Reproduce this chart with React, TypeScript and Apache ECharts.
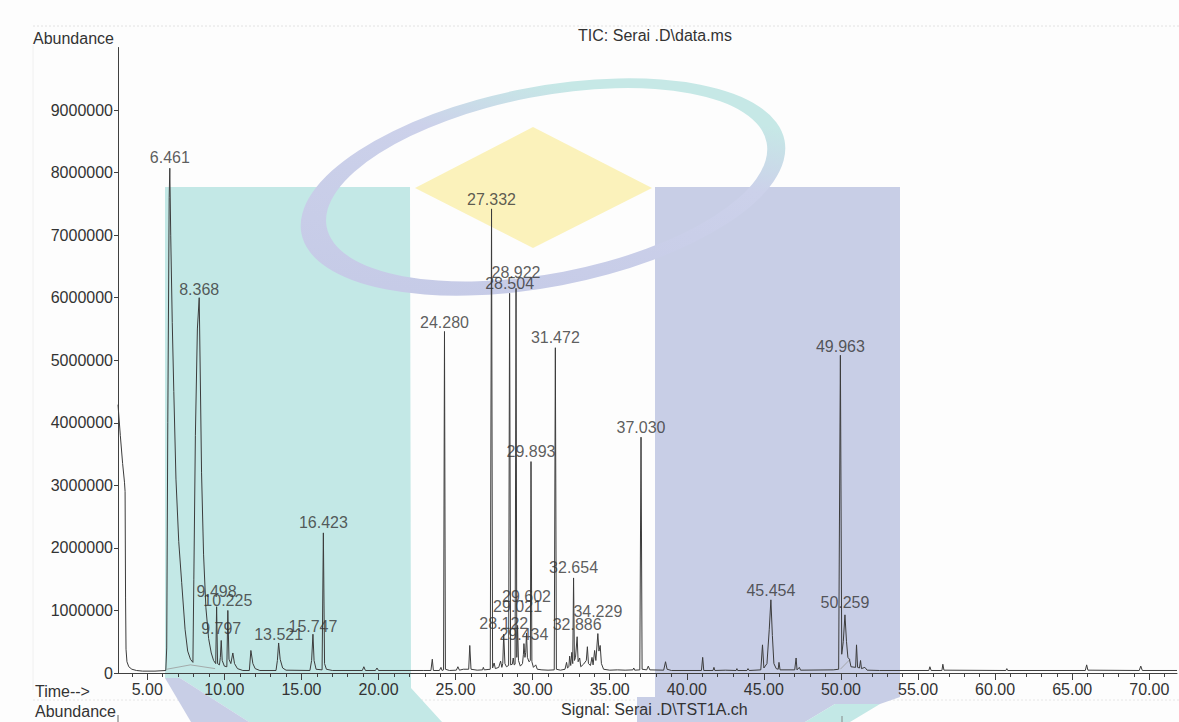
import React, { useEffect, useRef } from "react";
import * as echarts from "echarts";

// ---- axis ranges and ticks ----
const TIME_MIN = 3.1;
const TIME_MAX = 71.8;
const ABUNDANCE_MAX = 10000000;

const yTickValues = [0, 1000000, 2000000, 3000000, 4000000, 5000000, 6000000, 7000000, 8000000, 9000000];
const xMajorTicks = [5, 10, 15, 20, 25, 30, 35, 40, 45, 50, 55, 60, 65, 70];
const xMinorTicks = [
  4, 5, 6, 7, 8, 9, 10, 11, 12, 13, 14, 15, 16, 17, 18, 19, 20, 21, 22, 23, 24, 25, 26, 27, 28, 29, 30, 31, 32, 33, 34, 35,
  36, 37, 38, 39, 40, 41, 42, 43, 44, 45, 46, 47, 48, 49, 50, 51, 52, 53, 54, 55, 56, 57, 58, 59, 60, 61, 62, 63, 64, 65,
  66, 67, 68, 69, 70, 71,
];

// ---- TIC trace: [retention time (min), abundance] ----
const solventFront: [number, number][] = [
  [3.1, 4290000], [3.25, 3800000], [3.4, 3350000], [3.52, 3050000], [3.56, 2900000], [3.59, 1200000],
  [3.62, 380000], [3.68, 180000], [3.8, 100000], [4.0, 60000], [4.3, 40000], [4.7, 30000], [5.5, 30000], [6.2, 40000],
];

const earlyPeaks: [number, number][] = [
  [6.26, 400000], [6.33, 4000000], [6.42, 7600000], [6.461, 8070000], [6.52, 7000000], [6.62, 5600000],
  [6.72, 4500000], [6.86, 3100000], [7.04, 2100000], [7.23, 1450000], [7.45, 700000], [7.62, 350000],
  [7.8, 220000], [7.96, 170000],
  [8.02, 1500000], [8.12, 3800000], [8.25, 5500000], [8.368, 6000000], [8.44, 4700000], [8.52, 3200000],
  [8.65, 1900000], [8.8, 1050000], [8.98, 550000], [9.15, 320000], [9.3, 200000], [9.44, 150000],
  [9.498, 1060000], [9.56, 150000], [9.68, 130000], [9.74, 250000], [9.797, 520000], [9.86, 200000],
  [10.0, 110000], [10.16, 100000], [10.225, 1000000], [10.3, 220000], [10.42, 150000], [10.55, 320000],
  [10.66, 150000], [10.85, 70000], [11.2, 40000], [11.62, 40000], [11.72, 360000], [11.85, 150000],
  [12.0, 70000], [12.3, 40000], [13.35, 40000], [13.44, 200000], [13.521, 480000], [13.62, 220000],
  [13.78, 80000], [14.0, 45000], [15.55, 40000], [15.66, 200000], [15.747, 620000], [15.82, 200000],
  [15.95, 60000], [16.34, 50000], [16.423, 2240000], [16.5, 150000], [16.62, 60000], [17.0, 40000],
  [18.95, 40000], [19.05, 100000], [19.15, 40000], [19.8, 40000], [19.9, 80000], [20.0, 40000], [22.9, 40000],
];

const midPeaks: [number, number][] = [
  [23.4, 40000], [23.49, 220000], [23.56, 40000], [23.95, 40000], [24.05, 90000], [24.12, 40000],
  [24.22, 50000], [24.28, 5460000], [24.34, 60000], [24.6, 40000], [25.05, 45000], [25.15, 100000],
  [25.25, 45000], [25.5, 60000], [25.85, 60000], [25.92, 440000], [26.0, 60000], [26.4, 45000],
  [26.75, 50000], [26.8, 90000], [26.86, 50000], [27.25, 60000], [27.332, 7420000], [27.4, 80000],
  [27.5, 160000], [27.58, 70000], [27.8, 90000], [27.92, 190000], [28.0, 90000], [28.06, 150000],
  [28.122, 620000], [28.2, 150000], [28.3, 100000], [28.44, 120000], [28.504, 6070000], [28.57, 130000],
  [28.68, 140000], [28.74, 240000], [28.8, 130000], [28.86, 140000], [28.922, 6150000], [28.97, 250000],
  [29.021, 760000], [29.08, 200000], [29.2, 110000], [29.34, 150000], [29.4, 300000], [29.434, 470000],
  [29.5, 250000], [29.55, 330000], [29.602, 640000], [29.66, 250000], [29.76, 180000], [29.85, 200000],
  [29.893, 3380000], [29.95, 180000], [30.05, 90000], [30.2, 130000], [30.3, 60000], [30.6, 50000],
  [31.0, 45000], [31.4, 50000], [31.472, 5200000], [31.54, 60000], [31.8, 45000], [32.1, 60000],
  [32.2, 170000], [32.26, 80000], [32.35, 100000], [32.4, 270000], [32.47, 120000], [32.54, 330000],
  [32.6, 150000], [32.654, 1520000], [32.71, 200000], [32.78, 250000], [32.886, 580000], [32.95, 180000],
  [33.05, 240000], [33.12, 100000], [33.3, 140000], [33.48, 200000], [33.55, 420000], [33.62, 150000],
  [33.75, 120000], [33.85, 250000], [33.92, 130000], [34.02, 360000], [34.1, 200000], [34.229, 630000],
  [34.3, 350000], [34.38, 440000], [34.46, 150000], [34.6, 60000], [35.0, 45000], [35.5, 50000],
  [36.0, 45000], [36.5, 50000], [36.56, 80000], [36.62, 45000], [36.95, 50000], [37.03, 3770000],
  [37.1, 60000], [37.4, 50000], [37.5, 110000], [37.6, 50000],
];

const latePeaks: [number, number][] = [
  [38.5, 45000], [38.62, 180000], [38.72, 60000], [39.0, 40000], [40.95, 40000], [41.03, 250000],
  [41.1, 40000], [41.7, 40000], [41.76, 90000], [41.82, 40000], [42.5, 45000], [43.2, 40000],
  [43.25, 70000], [43.3, 40000], [43.9, 40000], [43.97, 70000], [44.05, 40000], [44.8, 50000],
  [44.91, 450000], [45.0, 80000], [45.2, 150000], [45.35, 700000], [45.454, 1170000], [45.55, 600000],
  [45.65, 150000], [45.8, 70000], [45.93, 60000], [45.98, 170000], [46.05, 50000], [47.0, 50000],
  [47.09, 240000], [47.15, 50000], [47.3, 90000], [47.38, 45000], [49.5, 50000], [49.85, 60000],
  [49.963, 5080000], [50.05, 300000], [50.15, 500000], [50.259, 930000], [50.36, 500000], [50.45, 250000],
  [50.55, 220000], [50.65, 100000], [50.95, 90000], [51.01, 450000], [51.08, 90000], [51.2, 80000],
  [51.27, 200000], [51.33, 70000], [51.55, 90000], [51.7, 45000], [52.5, 40000], [55.7, 40000],
  [55.77, 100000], [55.85, 40000], [56.55, 40000], [56.61, 140000], [56.68, 45000], [60.7, 40000],
  [60.76, 70000], [60.82, 40000], [65.85, 40000], [65.94, 130000], [66.02, 45000], [69.35, 40000],
  [69.45, 110000], [69.55, 40000], [71.8, 40000],
];

// integration baselines drawn under the early and the 50 min clusters
const integrationBaselines: [number, number][][] = [
  [[6.26, 60000], [7.8, 130000], [9.4, 70000]],
  [[49.96, 60000], [50.6, 220000]],
];

// ---- labelled peaks ----
const peakTimes = [
  6.461, 8.368, 9.498, 9.797, 10.225, 13.521, 15.747, 16.423, 24.28, 27.332, 28.122, 28.504, 28.922,
  29.021, 29.434, 29.602, 29.893, 31.472, 32.654, 32.886, 34.229, 37.03, 45.454, 49.963, 50.259,
];
const peakHeights = [
  8070000, 6000000, 1060000, 520000, 1000000, 480000, 620000, 2240000, 5460000, 7420000, 620000, 6070000,
  6150000, 760000, 470000, 640000, 3380000, 5200000, 1520000, 580000, 630000, 3770000, 1170000, 5080000, 930000,
];
// vertical lift (px) of each label centre above its apex; stacked labels sit higher
const labelLift = [11, 8, 15, 12, 10, 8, 8, 10, 9, 9, 11, 10, 16, 19, 9, 36, 10, 10, 10, 12, 22, 10, 9, 9, 12];

const FONT = '"Liberation Sans", Arial, sans-serif';
const INK = "#333333";
const TEAL = "#c3e8e6";
const LAVENDER = "#c8cee6";

// ring of the background emblem: outer ellipse with an inner, offset ellipse cut out
const ringPath =
  "M -246 0 A 246 100 0 1 1 246 0 A 246 100 0 1 1 -246 0 Z " +
  "M -220 -1.5 A 224 88.5 0 1 0 228 -1.5 A 224 88.5 0 1 0 -220 -1.5 Z";

let ringRegistered = false;
function registerRing() {
  if (ringRegistered) return;
  echarts.graphic.registerShape("emblemRing", echarts.graphic.extendPath(ringPath, {}) as any);
  ringRegistered = true;
}

export default function App() {
  const ref = useRef<HTMLDivElement>(null);

  useEffect(() => {
    if (!ref.current) return;
    registerRing();
    const chart = echarts.init(ref.current, undefined, { renderer: "svg" });

    const trace = [...solventFront, ...earlyPeaks, ...midPeaks, ...latePeaks];

    const textEl = (text: string, x: number, y: number, align: string = "left") => ({
      type: "text",
      x,
      y,
      z: 10,
      style: { text, fill: INK, font: `16px ${FONT}`, align, verticalAlign: "middle" },
    });

    const option: any = {
      animation: false,
      backgroundColor: "#fdfdfd",
      grid: { left: 118, right: 2, top: 47.5, bottom: 49 },
      xAxis: [
        {
          type: "value",
          min: TIME_MIN,
          max: TIME_MAX,
          position: "bottom",
          axisLine: { show: true, onZero: false, lineStyle: { color: "#404040", width: 1 } },
          axisTick: { show: true, customValues: xMajorTicks, length: 7, lineStyle: { color: "#404040" } },
          axisLabel: {
            customValues: xMajorTicks,
            formatter: (v: number) => v.toFixed(2),
            margin: 8,
            color: INK,
            fontSize: 16,
            fontFamily: FONT,
          },
          splitLine: { show: false },
        },
        {
          type: "value",
          min: TIME_MIN,
          max: TIME_MAX,
          position: "bottom",
          axisLine: { show: false, onZero: false },
          axisTick: { show: true, customValues: xMinorTicks, length: 4, lineStyle: { color: "#404040" } },
          axisLabel: { show: false },
          splitLine: { show: false },
        },
      ],
      yAxis: {
        type: "value",
        min: 0,
        max: ABUNDANCE_MAX,
        axisLine: { show: true, lineStyle: { color: "#404040", width: 1 } },
        axisTick: { show: true, customValues: yTickValues, length: 4, lineStyle: { color: "#404040" } },
        axisLabel: {
          customValues: yTickValues,
          formatter: (v: number) => String(v),
          margin: 5,
          color: INK,
          fontSize: 16,
          fontFamily: FONT,
        },
        splitLine: { show: false },
      },
      graphic: [
        // faint page rules
        { type: "line", z: -2, shape: { x1: 33, y1: 26, x2: 1179, y2: 26 }, style: { stroke: "#e2e2e2", lineWidth: 1, lineDash: [2, 2] } },
        { type: "line", z: -2, shape: { x1: 33, y1: 700, x2: 1179, y2: 700 }, style: { stroke: "#e6e6e6", lineWidth: 1, lineDash: [2, 2] } },
        { type: "line", z: -2, shape: { x1: 33, y1: 45, x2: 33, y2: 690 }, style: { stroke: "#f0f0f0", lineWidth: 1 } },
        { type: "line", z: 5, shape: { x1: 118, y1: 715, x2: 118, y2: 722 }, style: { stroke: "#666", lineWidth: 1 } },
        { type: "line", z: 5, shape: { x1: 842, y1: 716, x2: 842, y2: 722 }, style: { stroke: "#888", lineWidth: 1 } },
        // background emblem
        {
          type: "polygon",
          z: -1,
          shape: { points: [[165, 187], [410, 187], [411, 688], [442, 722], [249, 722], [180, 678], [165, 678]] },
          style: { fill: TEAL },
        },
        {
          type: "polygon",
          z: -1,
          shape: { points: [[165, 678], [180, 678], [249, 722], [191, 722]] },
          style: { fill: LAVENDER },
        },
        {
          type: "polygon",
          z: -1,
          shape: { points: [[655, 187], [900, 187], [900, 697], [880, 704], [835, 704], [805, 722], [637, 722], [637, 697], [655, 697]] },
          style: { fill: LAVENDER },
        },
        {
          type: "polygon",
          z: -1,
          shape: { points: [[835, 704], [880, 704], [850, 722], [805, 722]] },
          style: { fill: TEAL },
        },
        {
          type: "polygon",
          z: -1,
          shape: { points: [[533, 127], [652, 188], [533, 248], [415, 188]] },
          style: { fill: "#fbf2bb" },
        },
        {
          type: "emblemRing",
          z: -1,
          x: 543,
          y: 187,
          rotation: 0.19,
          style: {
            fill: new echarts.graphic.LinearGradient(0, 1, 1, 0, [
              { offset: 0, color: "#c4c9e6" },
              { offset: 0.6, color: "#ccd1ea" },
              { offset: 0.78, color: "#c6e8e6" },
              { offset: 1, color: "#c6e8e6" },
            ]),
          },
        },
        // page texts
        textEl("Abundance", 33, 38),
        textEl("TIC: Serai .D\\data.ms", 655, 35, "center"),
        textEl("Time-->", 35, 691),
        textEl("Abundance", 35, 711),
        textEl("Signal: Serai .D\\TST1A.ch", 561, 709),
      ],
      series: [
        ...integrationBaselines.map((seg) => ({
          type: "line",
          data: seg,
          showSymbol: false,
          silent: true,
          z: 1,
          lineStyle: { color: "#9a9a9a", width: 0.8 },
        })),
        {
          type: "line",
          name: "TIC",
          data: trace,
          showSymbol: false,
          sampling: undefined,
          silent: true,
          z: 3,
          lineStyle: { color: "#3c3c3c", width: 1 },
        },
        {
          type: "scatter",
          silent: true,
          z: 4,
          symbolSize: 1,
          itemStyle: { color: "rgba(0,0,0,0)" },
          data: peakTimes.map((t, i) => ({
            value: [t, peakHeights[i]],
            label: {
              show: true,
              position: "inside",
              offset: [0, -labelLift[i]],
              formatter: t.toFixed(3),
              color: INK,
              fontSize: 16,
              fontFamily: FONT,
            },
          })),
        },
      ],
    };

    chart.setOption(option);
    return () => chart.dispose();
  }, []);

  return (
    <div
      ref={ref}
      style={{ position: "fixed", left: 0, top: 0, width: 1179, height: 722, background: "#fdfdfd" }}
    />
  );
}
